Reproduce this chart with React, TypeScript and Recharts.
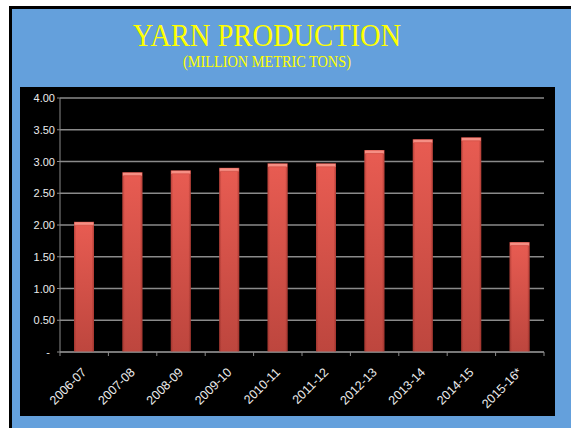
import { BarChart, Bar, XAxis, YAxis, CartesianGrid } from 'recharts'

const categories = ['2006-07', '2007-08', '2008-09', '2009-10', '2010-11', '2011-12', '2012-13', '2013-14', '2014-15', '2015-16*']
const production = [2.05, 2.83, 2.86, 2.9, 2.97, 2.97, 3.18, 3.35, 3.38, 1.73]
const yTicks = [0, 0.5, 1, 1.5, 2, 2.5, 3, 3.5, 4]

const data = categories.map((year, i) => ({ year, value: production[i] }))

const sans = '"Liberation Sans", Arial, sans-serif'
const serif = '"Liberation Serif", "Times New Roman", serif'
const axisGray = '#8a8a8a'
const labelColor = '#ececec'

const fmtY = (v: number) => (v === 0 ? '-' : v.toFixed(2))

function YTick(props: any) {
  const { x, y, payload } = props
  const v = payload.value as number
  return (
    <text x={v === 0 ? x - 5 : x} y={y} dy={4} textAnchor="end" fill={labelColor} fontSize={11} fontFamily={sans}>
      {fmtY(v)}
    </text>
  )
}

// category labels rotated 45deg, plus the small tick marks between categories
function XTick(props: any) {
  const { x, y, payload, index } = props
  const half = payload.offset ?? 24
  const last = index === categories.length - 1
  const tx = x + 3
  const ty = y + 21
  return (
    <g>
      <line x1={x - half} x2={x - half} y1={y} y2={y + 4} stroke={axisGray} />
      {last && <line x1={x + half} x2={x + half} y1={y} y2={y + 4} stroke={axisGray} />}
      <text
        x={tx}
        y={ty}
        textAnchor="end"
        fill={labelColor}
        fontSize={12.5}
        fontFamily={sans}
        transform={`rotate(-45, ${tx}, ${ty})`}
      >
        {payload.value}
      </text>
    </g>
  )
}

function RedBar(props: any) {
  const { x, y, width, height } = props
  if (!height || height <= 0) return null
  return (
    <g>
      <rect x={x} y={y} width={width} height={height} fill="url(#barV)" />
      <rect x={x} y={y} width={width} height={height} fill="url(#barH)" />
      <rect x={x + 0.5} y={y + 0.5} width={width - 1} height={3} fill="#f58f84" />
      <line x1={x + 1} x2={x + width - 1} y1={y + 3.5} y2={y + 3.5} stroke="#d9574d" />
    </g>
  )
}

export default function App() {
  return (
    <div style={{ position: 'absolute', left: 0, top: 0, width: 571, height: 428, background: '#fff', overflow: 'hidden' }}>
      <div
        style={{
          position: 'absolute', left: 9, top: 6, width: 562, height: 422,
          background: '#64a0dc', borderTop: '3px solid #000', borderLeft: '3px solid #000',
        }}
      />
      <div
        style={{
          position: 'absolute', left: 0, top: 21, width: 534, textAlign: 'center',
          fontFamily: serif, fontSize: 28.5, lineHeight: '30px', color: '#ffff00',
          transform: 'scaleY(1.1)',
        }}
      >
        YARN PRODUCTION
      </div>
      <div
        style={{
          position: 'absolute', left: 0, top: 55, width: 534, textAlign: 'center',
          fontFamily: serif, fontSize: 14.3, lineHeight: '15px', color: '#ffff00',
          transform: 'scaleY(1.1)',
        }}
      >
        (MILLION METRIC TONS)
      </div>
      <div style={{ position: 'absolute', left: 20, top: 87, width: 535, height: 329, background: '#000' }}>
        <BarChart width={535} height={329} data={data} margin={{ top: 11, right: 11, left: 0, bottom: 0 }}>
          <defs>
            <linearGradient id="barV" x1="0" y1="0" x2="0" y2="1">
              <stop offset="0%" stopColor="#e85c52" />
              <stop offset="100%" stopColor="#bd463e" />
            </linearGradient>
            <linearGradient id="barH" x1="0" y1="0" x2="1" y2="0">
              <stop offset="0%" stopColor="#7a1f1a" stopOpacity={0.45} />
              <stop offset="12%" stopColor="#7a1f1a" stopOpacity={0} />
              <stop offset="88%" stopColor="#7a1f1a" stopOpacity={0} />
              <stop offset="100%" stopColor="#7a1f1a" stopOpacity={0.5} />
            </linearGradient>
          </defs>
          <CartesianGrid vertical={false} stroke={axisGray} strokeWidth={1.5} />
          <XAxis
            dataKey="year"
            interval={0}
            tickLine={false}
            tickSize={0}
            tickMargin={0}
            axisLine={{ stroke: axisGray }}
            height={64}
            tick={<XTick />}
          />
          <YAxis
            domain={[0, 4]}
            ticks={yTicks}
            width={40}
            tickSize={3}
            tickLine={{ stroke: axisGray }}
            axisLine={{ stroke: axisGray }}
            tick={<YTick />}
          />
          <Bar dataKey="value" barSize={20} shape={<RedBar />} isAnimationActive={false} />
        </BarChart>
      </div>
    </div>
  )
}
